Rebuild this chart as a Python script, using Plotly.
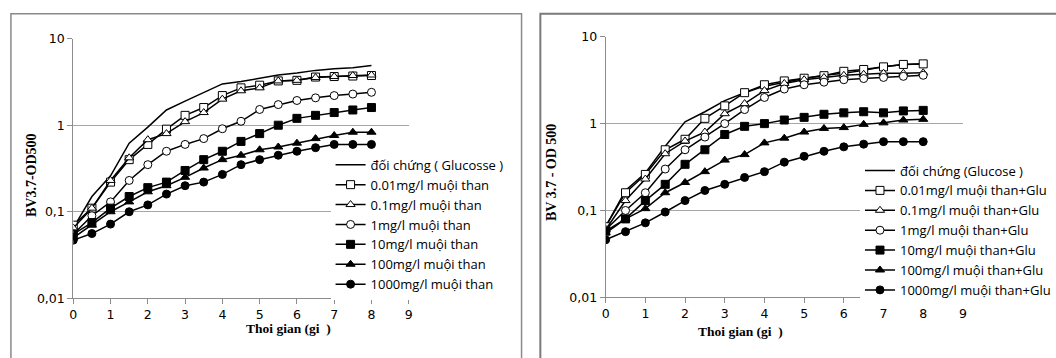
import plotly.graph_objects as go

W, H = 1056, 358

# ---------------- data ----------------
hours = [0, 0.5, 1, 1.5, 2, 2.5, 3, 3.5, 4, 4.5, 5, 5.5, 6, 6.5, 7, 7.5, 8]

left_names = [
    "đối chứng ( Glucosse )",
    "0.01mg/l muội than",
    "0.1mg/l muội than",
    "1mg/l muội than",
    "10mg/l muội than",
    "100mg/l muội than",
    "1000mg/l muội than",
]
left_control = [0.065, 0.15, 0.26, 0.62, 0.95, 1.5, 1.9, 2.4, 3.0, 3.2, 3.5, 3.8, 4.0, 4.3, 4.5, 4.6, 4.9]
left_001 = [0.07, 0.11, 0.22, 0.40, 0.60, 0.90, 1.30, 1.60, 2.20, 2.70, 2.90, 3.25, 3.30, 3.60, 3.65, 3.70, 3.75]
left_01 = [0.065, 0.11, 0.23, 0.42, 0.68, 0.80, 1.10, 1.40, 2.00, 2.50, 2.70, 3.25, 3.30, 3.55, 3.65, 3.75, 3.80]
left_1 = [0.055, 0.09, 0.13, 0.23, 0.35, 0.50, 0.60, 0.70, 0.91, 1.11, 1.52, 1.73, 1.93, 2.07, 2.20, 2.29, 2.40]
left_10 = [0.055, 0.075, 0.11, 0.15, 0.19, 0.22, 0.30, 0.40, 0.50, 0.65, 0.80, 1.00, 1.20, 1.30, 1.40, 1.50, 1.60]
left_100 = [0.05, 0.07, 0.10, 0.13, 0.17, 0.20, 0.25, 0.32, 0.40, 0.45, 0.52, 0.56, 0.62, 0.70, 0.76, 0.83, 0.83]
left_1000 = [0.047, 0.056, 0.072, 0.10, 0.12, 0.16, 0.20, 0.22, 0.27, 0.35, 0.40, 0.45, 0.50, 0.55, 0.60, 0.60, 0.60]

right_names = [
    "đối chứng (Glucose )",
    "0.01mg/l muội than+Glu",
    "0.1mg/l muội than+Glu",
    "1mg/l muội than+Glu",
    "10mg/l muội than+Glu",
    "100mg/l muội than+Glu",
    "1000mg/l muội than+Glu",
]
right_control = [0.065, 0.17, 0.27, 0.55, 1.05, 1.37, 1.84, 2.27, 2.70, 3.00, 3.30, 3.60, 3.80, 4.10, 4.50, 4.80, 4.90]
right_001 = [0.065, 0.16, 0.26, 0.50, 0.66, 1.15, 1.60, 2.27, 2.80, 3.10, 3.33, 3.56, 4.00, 4.20, 4.50, 4.80, 4.87]
right_01 = [0.06, 0.13, 0.23, 0.45, 0.63, 0.80, 1.30, 1.70, 2.40, 2.90, 3.20, 3.40, 3.60, 3.70, 3.80, 3.80, 3.85]
right_1 = [0.06, 0.10, 0.16, 0.30, 0.50, 0.70, 1.00, 1.45, 2.00, 2.50, 2.80, 3.00, 3.20, 3.30, 3.40, 3.50, 3.60]
right_10 = [0.058, 0.08, 0.13, 0.20, 0.34, 0.50, 0.75, 0.93, 1.00, 1.10, 1.18, 1.28, 1.33, 1.37, 1.33, 1.40, 1.42]
right_100 = [0.055, 0.08, 0.105, 0.16, 0.21, 0.28, 0.38, 0.44, 0.60, 0.68, 0.80, 0.88, 0.90, 0.98, 1.02, 1.10, 1.12]
right_1000 = [0.046, 0.057, 0.072, 0.096, 0.13, 0.17, 0.20, 0.24, 0.28, 0.36, 0.42, 0.48, 0.54, 0.58, 0.62, 0.62, 0.62]

left_series = [left_control, left_001, left_01, left_1, left_10, left_100, left_1000]
right_series = [right_control, right_001, right_01, right_1, right_10, right_100, right_1000]

x_ticks = list(range(0, 10))
y_tickvals = [0.01, 0.1, 1, 10]
y_ticktext = ["0,01", "0,1", "1", "10"]

x_title = "Thoi gian (gi\u00a0\u00a0)"
left_ytitle = "BV3.7-OD500"
right_ytitle = "BV 3.7 - OD 500"

# marker styles per series (None = line only)
styles = [
    None,
    ("square", "white"),
    ("triangle-up", "white"),
    ("circle", "white"),
    ("square", "black"),
    ("triangle-up", "black"),
    ("circle", "black"),
]


def px(v):
    return v / W


def py(v):
    return 1 - v / H


fig = go.Figure()


def add_series(series, names, xa, ya, legend):
    for vals, name, st in zip(series, names, styles):
        if st is None:
            fig.add_trace(go.Scatter(
                x=hours, y=vals, name=name, mode="lines",
                line=dict(color="black", width=1.5),
                xaxis=xa, yaxis=ya, legend=legend,
            ))
        else:
            sym, fill = st
            fig.add_trace(go.Scatter(
                x=hours, y=vals, name=name, mode="lines+markers",
                line=dict(color="black", width=1.5),
                marker=dict(symbol=sym, size=8, color=fill,
                            line=dict(color="black", width=1)),
                xaxis=xa, yaxis=ya, legend=legend,
            ))


add_series(left_series, left_names, "x", "y", "legend")
add_series(right_series, right_names, "x2", "y2", "legend2")

tick_font = dict(family="DejaVu Sans", size=12.5, color="black")
axis_col = "#8c8c8c"
grid_col = "#a6a6a6"


def xaxis_cfg(dom, anchor):
    return dict(
        domain=dom, anchor=anchor, range=[0, 9], tickvals=x_ticks,
        showgrid=False, zeroline=False, showline=True, linecolor=axis_col,
        linewidth=1, ticks="outside", ticklen=5, tickcolor=axis_col,
        tickfont=tick_font, fixedrange=True,
    )


def yaxis_cfg(dom, anchor):
    return dict(
        domain=dom, anchor=anchor, type="log", range=[-2, 1],
        tickvals=y_tickvals, ticktext=y_ticktext,
        showgrid=True, gridcolor=grid_col, gridwidth=1, zeroline=False,
        showline=True, linecolor=axis_col, linewidth=1,
        ticks="outside", ticklen=5, tickcolor=axis_col,
        tickfont=tick_font, fixedrange=True,
    )


legend_font = dict(family="Open Sans", size=13, color="black")
title_font_y = dict(family="Liberation Serif", size=14, color="black", weight="bold")
title_font_x = dict(family="Liberation Serif", size=13.5, color="black", weight="bold")

fig.update_layout(
    width=W, height=H,
    margin=dict(l=0, r=0, t=0, b=0),
    paper_bgcolor="white", plot_bgcolor="white",
    xaxis=xaxis_cfg([px(70), px(409)], "y"),
    yaxis=yaxis_cfg([py(303), py(32)], "x"),
    xaxis2=xaxis_cfg([px(608), px(969)], "y2"),
    yaxis2=yaxis_cfg([py(302), py(30)], "x2"),
    legend=dict(x=px(330), y=py(148), xanchor="left", yanchor="top",
                bgcolor="white", font=legend_font, tracegroupgap=0,
                itemwidth=30),
    legend2=dict(x=px(865), y=py(154), xanchor="left", yanchor="top",
                 bgcolor="white", font=legend_font, tracegroupgap=0,
                 itemwidth=30),
    showlegend=True,
    annotations=[
        dict(text=left_ytitle, x=px(18), y=py(174), xref="paper", yref="paper",
             textangle=-90, showarrow=False, font=title_font_y),
        dict(text=right_ytitle, x=px(554), y=py(172), xref="paper", yref="paper",
             textangle=-90, showarrow=False, font=title_font_y),
        dict(text=x_title, x=px(243), y=py(344), xref="paper", yref="paper",
             showarrow=False, font=title_font_x),
        dict(text=x_title, x=px(789), y=py(348), xref="paper", yref="paper",
             showarrow=False, font=title_font_x),
    ],
    shapes=[
        dict(type="rect", xref="paper", yref="paper",
             x0=px(7), x1=px(523), y0=py(370), y1=py(6),
             line=dict(color="#8a8a8a", width=1.5), layer="below"),
        dict(type="rect", xref="paper", yref="paper",
             x0=px(542), x1=px(1070), y0=py(370), y1=py(6),
             line=dict(color="#7a7a7a", width=2), layer="below"),
    ],
)

fig.write_html(
    "out.html",
    config={"displayModeBar": False},
    post_script="document.body.style.margin='0';document.body.style.overflow='hidden';",
)
